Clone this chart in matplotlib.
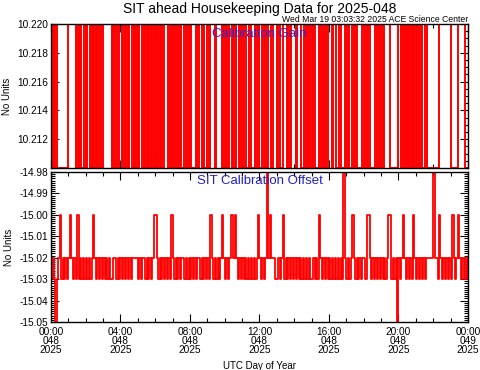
import numpy as np
import matplotlib
matplotlib.use("Agg")
import matplotlib.pyplot as plt
from matplotlib.ticker import MultipleLocator

plt.rcParams['font.family'] = ['Liberation Sans', 'DejaVu Sans']

# 5-minute samples, one string per hour (12 samples each)
# gain: '0' = 10.210, '1' = 10.220
gain_hours = [
    "010100000000", "111110101001", "011010101010", "111111010101",
    "101010110101", "011010101010", "101010111010", "101101001010",
    "100010110100", "101110111101", "010110101101", "011001000101",
    "001010110111", "010011101011", "101110010101", "010001010101",
    "110110010001", "010010100001", "010100001010", "101111000000",
    "110101010101", "010100110000", "000011111111", "000001111100",
]
gain_last = "0"
gain_levels = {"0": 10.210, "1": 10.220}

# offset: '2' = -15.02, '3' = -15.03, '0' = -15.00, '8' = off top, '5' = off bottom
offset_hours = [
    "323532032323", "202323032323", "232320232323", "232323322323",
    "232323232222", "323223232320", "023232323230", "232323223232",
    "323232232323", "230232323202", "323200202323", "232323232320",
    "232328202223", "323203232323", "232323232323", "323230232323",
    "232323232382", "323202323232", "230023232323", "232320032325",
    "232023232302", "323232322222", "822302323232", "302320232323",
]
offset_last = "2"
offset_levels = {"0": -15.00, "2": -15.02, "3": -15.03, "5": -15.06, "8": -14.97}

xtick_hours = [0, 4, 8, 12, 16, 20, 24]
xtick_labels = ["00:00\n048\n2025", "04:00\n048\n2025", "08:00\n048\n2025",
                "12:00\n048\n2025", "16:00\n048\n2025", "20:00\n048\n2025",
                "00:00\n049\n2025"]

gain_codes = "".join(gain_hours) + gain_last
offset_codes = "".join(offset_hours) + offset_last
t_gain = np.arange(len(gain_codes)) * 5 / 60.0
t_off = np.arange(len(offset_codes)) * 5 / 60.0
gain = [gain_levels[c] for c in gain_codes]
offset = [offset_levels[c] for c in offset_codes]

fig = plt.figure(figsize=(4.81, 3.70), dpi=100)
ax1 = fig.add_axes([51 / 481, 1 - 168 / 370, 417 / 481, 144 / 370])
ax2 = fig.add_axes([51 / 481, 1 - 322 / 370, 417 / 481, 150 / 370])

ax1.plot(t_gain, gain, color="red", lw=1.4, drawstyle="steps-post")
ax2.plot(t_off, offset, color="red", lw=1.3, drawstyle="steps-post")

ax1.set_ylim(10.210, 10.220)
ax1.set_yticks([10.212, 10.214, 10.216, 10.218, 10.220])
ax1.set_yticklabels(["10.212", "10.214", "10.216", "10.218", "10.220"])
ax1.yaxis.set_minor_locator(MultipleLocator(0.0005))

ax2.set_ylim(-15.05, -14.98)
yt = [-14.98, -14.99, -15.00, -15.01, -15.02, -15.03, -15.04, -15.05]
ax2.set_yticks(yt)
ax2.set_yticklabels(["%.2f" % v for v in yt])
ax2.yaxis.set_minor_locator(MultipleLocator(0.001))

for ax in (ax1, ax2):
    ax.set_xlim(0, 24)
    ax.set_xticks(xtick_hours)
    ax.xaxis.set_minor_locator(MultipleLocator(1))
    ax.tick_params(which="both", direction="in", top=True, right=True,
                   width=0.8, labelsize=7.3, pad=2)
    ax.tick_params(which="major", length=6)
    ax.tick_params(which="minor", length=3)
    for s in ax.spines.values():
        s.set_linewidth(1.0)
    ax.set_ylabel("No Units", fontsize=7, labelpad=4)

ax1.set_xticklabels([])
ax2.set_xticklabels(xtick_labels, linespacing=0.9)
ax2.tick_params(axis="x", which="major", pad=3.5)
ax2.set_xlabel("UTC Day of Year", fontsize=7, labelpad=4)

ax1.text(0.5, 0.93, "Calibration Gain", transform=ax1.transAxes, ha="center",
         va="center", color="#3a22c8", fontsize=9.5)
ax2.text(0.5, 0.94, "SIT Calibration Offset", transform=ax2.transAxes,
         ha="center", va="center", color="#2020c0", fontsize=9.5)

fig.text(259.5 / 481, 1 - 9 / 370, "SIT ahead Housekeeping Data for 2025-048",
         ha="center", va="center", fontsize=10)
fig.text(468 / 481, 1 - 19.5 / 370, "Wed Mar 19 03:03:32 2025 ACE Science Center",
         ha="right", va="center", fontsize=6.2)

fig.savefig("out.png", dpi=100)
